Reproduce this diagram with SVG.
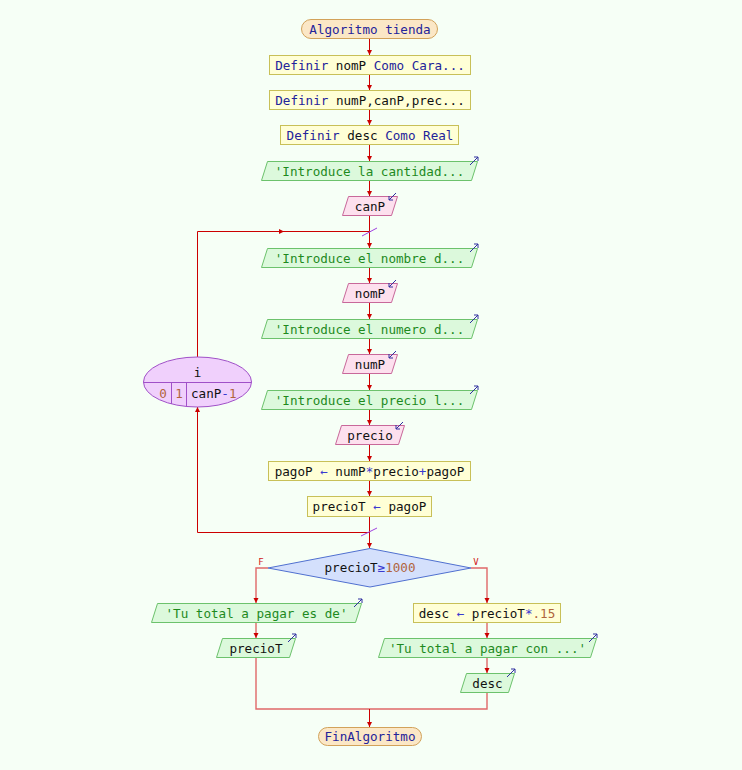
<svg xmlns="http://www.w3.org/2000/svg" width="742" height="770" viewBox="0 0 742 770">
  <defs>
    <style>
      text { font-family: "DejaVu Sans Mono", "Liberation Mono", monospace; font-size: 12.6px; fill: #111; text-anchor: middle; }
      .kw { fill: #23239a; }
      .op { fill: #3a3ad0; }
      .num { fill: #b0643c; }
      .str { fill: #1e8a1e; }
      .term { fill: #fbe7c6; stroke: #d2a25a; stroke-width: 1; }
      .proc { fill: #ffffd6; stroke: #c8c058; stroke-width: 1; }
      .out { fill: #dcf9dc; stroke: #6cc26c; stroke-width: 1; }
      .in { fill: #fde0ee; stroke: #c8689a; stroke-width: 1; }
      .loop { fill: #f0d0fc; stroke: #a050c8; stroke-width: 1; }
      .cond { fill: #d4e0fc; stroke: #5070d0; stroke-width: 1; }
      .icon { fill: none; stroke: #3030a0; stroke-width: 1; }
      .wire { fill: none; stroke: #cc0000; stroke-width: 1; }
      .soft { fill: none; stroke: #e06868; stroke-width: 1.4; }
      .tick { stroke: #a040e0; stroke-width: 1; }
      .lbl { font-size: 9px; fill: #d02020; }
    </style>
    <marker id="ah" markerUnits="userSpaceOnUse" markerWidth="6" markerHeight="6" refX="5" refY="3" orient="auto" viewBox="0 0 6 6">
      <path d="M0,0.5 L5,3 L0,5.5 z" fill="#cc0000"/>
    </marker>
    <!-- small arrow glyphs anchored at the top-right corner of I/O shapes -->
    <path id="oicon" class="icon" d="M-8,3 L0,-5 M-4,-5 L0,-5 L0,-1"/>
    <path id="iicon" class="icon" d="M-1,-3 L-8,4 M-8,0 L-8,4 L-4,4"/>
  </defs>

  <rect width="742" height="770" fill="#f6fff6"/>

  <g id="connectors">
    <path class="wire" d="M369.5,39 V55" marker-end="url(#ah)"/>
    <path class="wire" d="M369.5,75 V90" marker-end="url(#ah)"/>
    <path class="wire" d="M369.5,110 V125" marker-end="url(#ah)"/>
    <path class="wire" d="M369.5,145 V161" marker-end="url(#ah)"/>
    <path class="wire" d="M369.5,181 V196" marker-end="url(#ah)"/>
    <path class="wire" d="M369.5,216 V248" marker-end="url(#ah)"/>
    <path class="wire" d="M369.5,268 V283" marker-end="url(#ah)"/>
    <path class="wire" d="M369.5,303 V319" marker-end="url(#ah)"/>
    <path class="wire" d="M369.5,339 V354" marker-end="url(#ah)"/>
    <path class="wire" d="M369.5,374 V390" marker-end="url(#ah)"/>
    <path class="wire" d="M369.5,410 V425" marker-end="url(#ah)"/>
    <path class="wire" d="M369.5,445 V461" marker-end="url(#ah)"/>
    <path class="wire" d="M369.5,481 V496" marker-end="url(#ah)"/>
    <path class="wire" d="M369.5,517 V548" marker-end="url(#ah)"/>
    <!-- loop return: top of the for-node back into the body -->
    <path class="wire" d="M197.5,357 V231.5 H284" marker-end="url(#ah)"/>
    <path class="wire" d="M283,231.5 H369.5"/>
    <line class="tick" x1="362" y1="236" x2="377" y2="228"/>
    <!-- loop exit: end of body to the bottom of the for-node -->
    <path class="wire" d="M369.5,532.5 H197.5 V407" marker-end="url(#ah)"/>
    <line class="tick" x1="361" y1="536" x2="377" y2="528"/>
    <!-- branches of the decision -->
    <path class="soft" d="M268,568 H256 V603" marker-end="url(#ah)"/>
    <path class="soft" d="M471,568 H487 V603" marker-end="url(#ah)"/>
    <path class="soft" d="M256,623 V638" marker-end="url(#ah)"/>
    <path class="soft" d="M487,623 V638" marker-end="url(#ah)"/>
    <path class="soft" d="M487,658 V673" marker-end="url(#ah)"/>
    <path class="soft" d="M256,658 V709 H487 V693"/>
    <path class="wire" d="M369.5,709 V727" marker-end="url(#ah)"/>
    <text class="lbl" x="261" y="565">F</text>
    <text class="lbl" x="476" y="565">V</text>
  </g>

  <g id="start">
    <rect class="term" x="301.5" y="19.5" width="136" height="19" rx="9.5"/>
    <text x="370" y="33.5" class="kw">Algoritmo tienda</text>
  </g>

  <g id="def1">
    <rect class="proc" x="269.5" y="55.5" width="201" height="19"/>
    <text x="370" y="69.5"><tspan class="kw">Definir</tspan> nomP <tspan class="kw">Como</tspan> <tspan class="kw">Cara...</tspan></text>
  </g>

  <g id="def2">
    <rect class="proc" x="269.5" y="90.5" width="201" height="19"/>
    <text x="370" y="104.5"><tspan class="kw">Definir</tspan> numP,canP,prec...</text>
  </g>

  <g id="def3">
    <rect class="proc" x="280.5" y="125.5" width="178" height="19"/>
    <text x="370" y="139.5"><tspan class="kw">Definir</tspan> desc <tspan class="kw">Como</tspan> <tspan class="kw">Real</tspan></text>
  </g>

  <g id="out1">
    <polygon class="out" points="267.5,161.5 477.5,161.5 471.5,180.5 261.5,180.5"/>
    <text x="369.5" y="175.5" class="str">'Introduce la cantidad...</text>
    <use href="#oicon" x="478" y="162"/>
  </g>

  <g id="in-canP">
    <polygon class="in" points="348.5,196.5 397.5,196.5 391.5,215.5 342.5,215.5"/>
    <text x="370" y="210.5">canP</text>
    <use href="#iicon" x="397" y="196"/>
  </g>

  <g id="for-i">
    <ellipse class="loop" cx="197.5" cy="382" rx="54" ry="25"/>
    <line x1="143.5" y1="382.5" x2="251.5" y2="382.5" stroke="#a050c8"/>
    <line x1="171.5" y1="382.5" x2="171.5" y2="404" stroke="#a050c8"/>
    <line x1="186.5" y1="382.5" x2="186.5" y2="406.5" stroke="#a050c8"/>
    <text x="197.5" y="377">i</text>
    <text x="163" y="398" class="num">0</text>
    <text x="179" y="398" class="num">1</text>
    <text x="191" y="398" style="text-anchor:start">canP<tspan class="op">-</tspan><tspan class="num">1</tspan></text>
  </g>

  <g id="out2">
    <polygon class="out" points="267.5,248.5 477.5,248.5 471.5,267.5 261.5,267.5"/>
    <text x="369.5" y="262.5" class="str">'Introduce el nombre d...</text>
    <use href="#oicon" x="478" y="249"/>
  </g>

  <g id="in-nomP">
    <polygon class="in" points="348.5,283.5 397.5,283.5 391.5,302.5 342.5,302.5"/>
    <text x="370" y="297.5">nomP</text>
    <use href="#iicon" x="397" y="283"/>
  </g>

  <g id="out3">
    <polygon class="out" points="267.5,319.5 477.5,319.5 471.5,338.5 261.5,338.5"/>
    <text x="369.5" y="333.5" class="str">'Introduce el numero d...</text>
    <use href="#oicon" x="478" y="320"/>
  </g>

  <g id="in-numP">
    <polygon class="in" points="348.5,354.5 397.5,354.5 391.5,373.5 342.5,373.5"/>
    <text x="370" y="368.5">numP</text>
    <use href="#iicon" x="397" y="354"/>
  </g>

  <g id="out4">
    <polygon class="out" points="267.5,390.5 477.5,390.5 471.5,409.5 261.5,409.5"/>
    <text x="369.5" y="404.5" class="str">'Introduce el precio l...</text>
    <use href="#oicon" x="478" y="391"/>
  </g>

  <g id="in-precio">
    <polygon class="in" points="341.5,425.5 404.5,425.5 398.5,444.5 335.5,444.5"/>
    <text x="370" y="439.5">precio</text>
    <use href="#iicon" x="404" y="425"/>
  </g>

  <g id="set-pagoP">
    <rect class="proc" x="268.5" y="461.5" width="202" height="19"/>
    <text x="369.5" y="475.5">pagoP <tspan class="op">←</tspan> numP<tspan class="op">*</tspan>precio<tspan class="op">+</tspan>pagoP</text>
  </g>

  <g id="set-precioT">
    <rect class="proc" x="307.5" y="496.5" width="124" height="20"/>
    <text x="369.5" y="511">precioT <tspan class="op">←</tspan> pagoP</text>
  </g>

  <g id="cond">
    <polygon class="cond" points="268,568 370,548.5 471,568 370,587"/>
    <text x="370" y="572">precioT<tspan class="op">≥</tspan><tspan class="num">1000</tspan></text>
  </g>

  <g id="out-total">
    <polygon class="out" points="157.5,603.5 361.5,603.5 355.5,622.5 151.5,622.5"/>
    <text x="256.5" y="617.5" class="str">'Tu total a pagar es de'</text>
    <use href="#oicon" x="362" y="604"/>
  </g>

  <g id="out-precioT">
    <polygon class="out" points="222.5,638.5 295.5,638.5 289.5,657.5 216.5,657.5"/>
    <text x="256" y="652.5">precioT</text>
    <use href="#oicon" x="296" y="639"/>
  </g>

  <g id="set-desc">
    <rect class="proc" x="413.5" y="603.5" width="147" height="19"/>
    <text x="487" y="617.5">desc <tspan class="op">←</tspan> precioT<tspan class="op">*</tspan><tspan class="num">.15</tspan></text>
  </g>

  <g id="out-con">
    <polygon class="out" points="384.5,638.5 596.5,638.5 590.5,657.5 378.5,657.5"/>
    <text x="487.5" y="652.5" class="str">'Tu total a pagar con ...'</text>
    <use href="#oicon" x="597" y="639"/>
  </g>

  <g id="out-desc">
    <polygon class="out" points="466.5,673.5 514.5,673.5 508.5,692.5 460.5,692.5"/>
    <text x="487.5" y="687.5">desc</text>
    <use href="#oicon" x="515" y="674"/>
  </g>

  <g id="end">
    <rect class="term" x="318.5" y="727.5" width="103" height="18" rx="9"/>
    <text x="370" y="741" class="kw">FinAlgoritmo</text>
  </g>
</svg>
